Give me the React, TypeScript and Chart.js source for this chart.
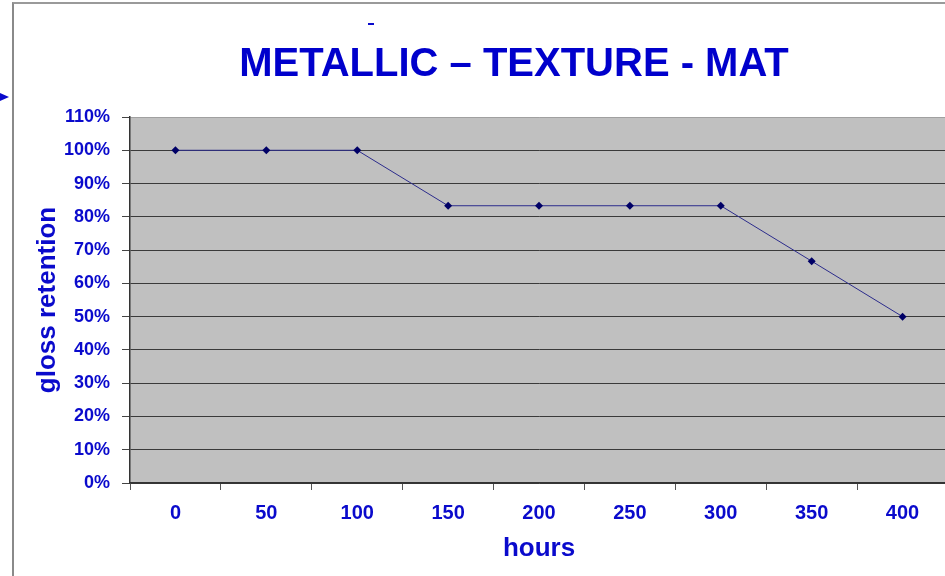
import React, { useEffect, useRef } from "react";
import { Chart, registerables } from "chart.js";

Chart.register(...registerables);

const hours = ["0", "50", "100", "150", "200", "250", "300", "350", "400"];
const glossRetention = [100, 100, 100, 83.33, 83.33, 83.33, 83.33, 66.67, 50];
const yMin = 0;
const yMax = 110;
const yStep = 10;
const titleText = "METALLIC \u2013 TEXTURE - MAT";
const yTitle = "gloss retention";
const xTitle = "hours";

const BLUE = "#0a0acc";
const FONT = "'Liberation Sans', Arial, Helvetica, sans-serif";

const plotBg = {
  id: "plotBg",
  beforeDraw(chart: any) {
    const { ctx, chartArea } = chart;
    if (!chartArea) return;
    ctx.save();
    ctx.fillStyle = "#c0c0c0";
    ctx.fillRect(chartArea.left, chartArea.top, chartArea.right - chartArea.left, chartArea.bottom - chartArea.top);
    ctx.restore();
  },
};

export default function App() {
  const ref = useRef<HTMLCanvasElement | null>(null);

  useEffect(() => {
    document.body.style.margin = "0";
    const canvas = ref.current;
    if (!canvas) return;
    const chart = new Chart(canvas, {
      type: "line",
      data: {
        labels: hours,
        datasets: [
          {
            data: glossRetention,
            borderColor: "#2c2c8c",
            borderWidth: 1,
            pointStyle: "rectRot",
            pointRadius: 4,
            pointBackgroundColor: "#000066",
            pointBorderColor: "#000066",
            pointBorderWidth: 0,
            tension: 0,
            fill: false,
          },
        ],
      },
      options: {
        responsive: false,
        animation: false,
        maintainAspectRatio: false,
        layout: { padding: { left: 28, top: 117, right: 4, bottom: 8 } },
        plugins: {
          legend: { display: false },
          title: { display: false },
          tooltip: { enabled: false },
        },
        scales: {
          x: {
            type: "category",
            offset: true,
            afterFit(scale: any) {
              scale.height = 85;
            },
            grid: {
              offset: true,
              drawOnChartArea: false,
              drawTicks: true,
              tickLength: 7,
              tickColor: "#555555",
            },
            border: { display: true, color: "#333333", width: 1.5 },
            ticks: {
              color: BLUE,
              font: { family: FONT, size: 20, weight: "bold" },
              padding: 11,
              maxRotation: 0,
              autoSkip: false,
            },
            title: {
              display: true,
              text: xTitle,
              color: BLUE,
              font: { family: FONT, size: 26, weight: "bold" },
            },
          },
          y: {
            min: yMin,
            max: yMax,
            afterFit(scale: any) {
              scale.width = 102;
            },
            grid: {
              color: (c: any) => (c.tick && c.tick.value === yMax ? "#a0a0a0" : "#3a3a3a"),
              lineWidth: 1,
              drawTicks: true,
              tickLength: 8,
              tickColor: "#444444",
            },
            border: { display: true, color: "#333333", width: 1.5 },
            ticks: {
              stepSize: yStep,
              color: BLUE,
              font: { family: FONT, size: 18, weight: "bold" },
              padding: 12,
              callback: (v: any) => `${Math.round(Number(v))}%`,
            },
            title: {
              display: true,
              text: yTitle,
              color: BLUE,
              font: { family: FONT, size: 26, weight: "bold" },
            },
          },
        },
      },
      plugins: [plotBg],
    });
    return () => chart.destroy();
  }, []);

  return (
    <div style={{ position: "fixed", left: 0, top: 0, width: 945, height: 576, background: "#ffffff", overflow: "hidden" }}>
      <canvas ref={ref} width={952} height={576} style={{ position: "absolute", left: 0, top: 0, width: 952, height: 576 }} />
      <div
        style={{
          position: "absolute",
          left: 12,
          top: 2,
          width: 945,
          height: 600,
          borderLeft: "2px solid #8a8a8a",
          borderTop: "2px solid #9a9a9a",
          pointerEvents: "none",
        }}
      />
      <div
        style={{
          position: "absolute",
          left: 0,
          top: 93,
          width: 0,
          height: 0,
          borderLeft: "9px solid #0a0acc",
          borderTop: "4.5px solid transparent",
          borderBottom: "4.5px solid transparent",
          pointerEvents: "none",
        }}
      />
      <div style={{ position: "absolute", left: 368, top: 23, width: 6, height: 2, background: BLUE }} />
      <div
        style={{
          position: "absolute",
          left: 84,
          top: 38,
          width: 860,
          lineHeight: "48px",
          textAlign: "center",
          fontFamily: FONT,
          fontWeight: "bold",
          fontSize: 40,
          color: "#0000cc",
          whiteSpace: "nowrap",
          pointerEvents: "none",
        }}
      >
        {titleText}
      </div>
    </div>
  );
}
